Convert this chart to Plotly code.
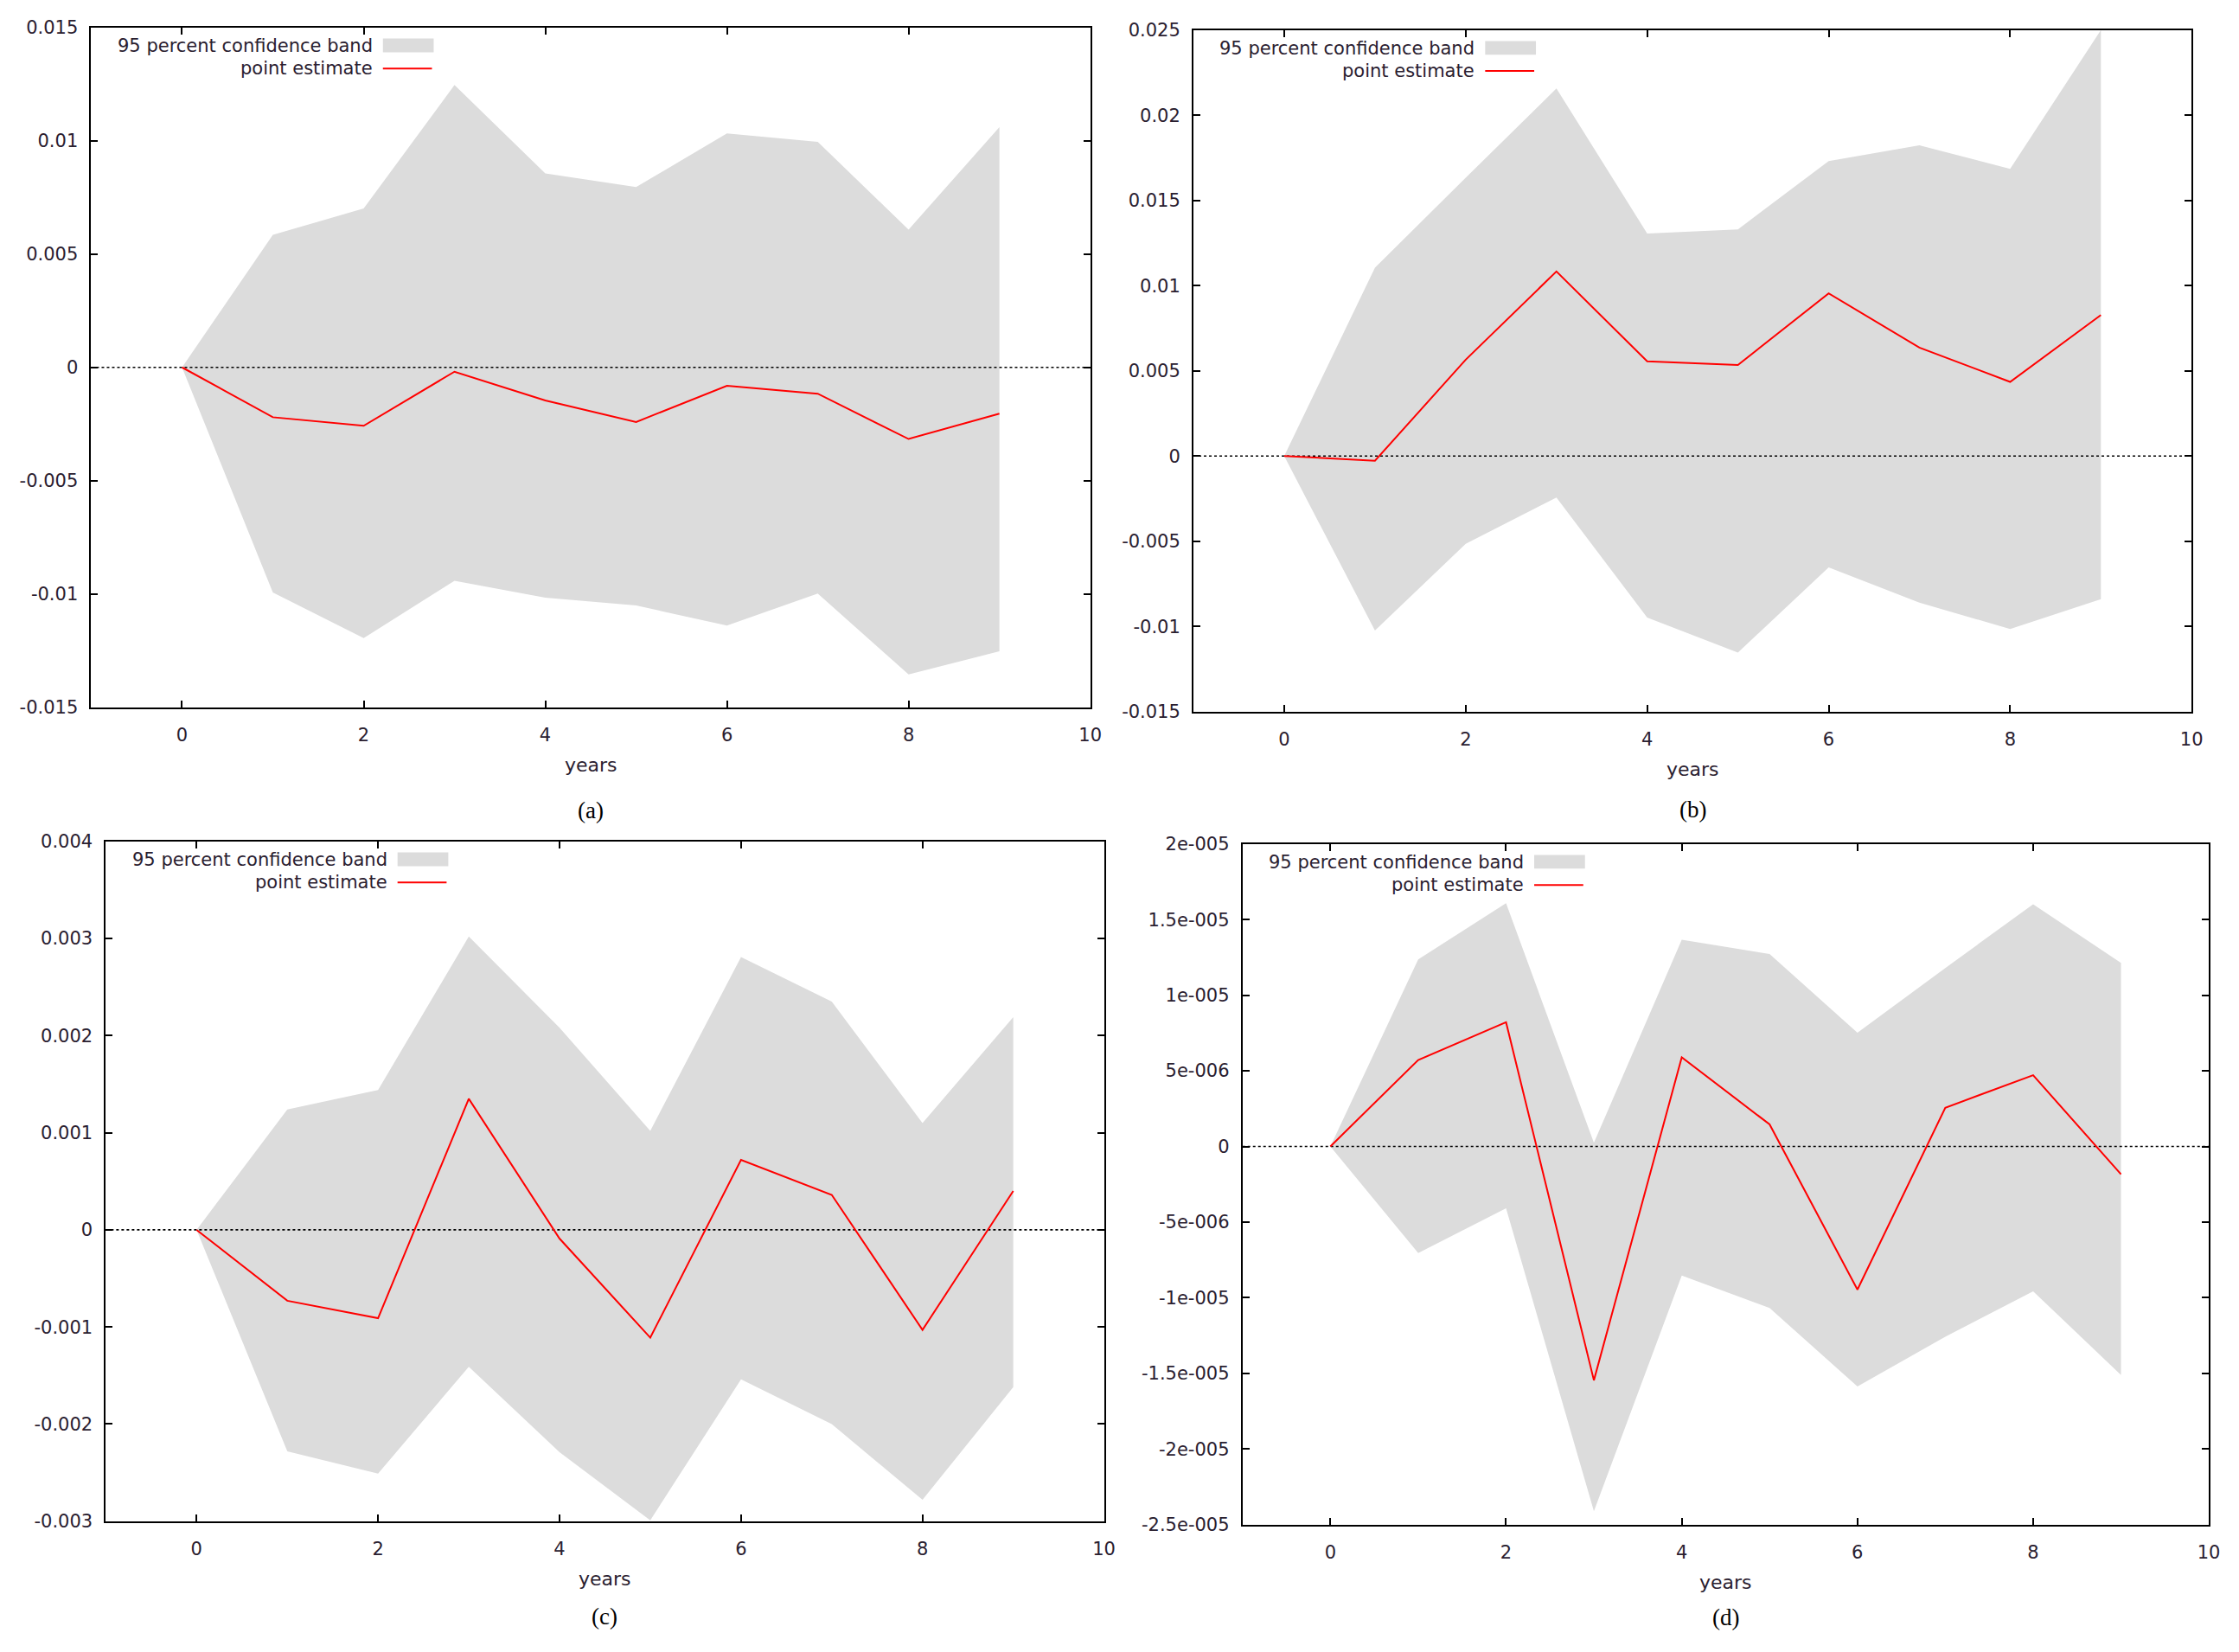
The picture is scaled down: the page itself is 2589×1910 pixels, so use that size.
import plotly.graph_objects as go

W, H = 2589, 1910

# ---------------- data ----------------
years = [0, 1, 2, 3, 4, 5, 6, 7, 8, 9]
x_ticks = [0, 2, 4, 6, 8, 10]
x_range = [-1, 10]

a_upper = [0, 0.00585, 0.00701, 0.01246, 0.00856, 0.00796, 0.01032, 0.00995, 0.00608, 0.01060]
a_lower = [0, -0.00993, -0.01195, -0.00942, -0.01016, -0.01051, -0.01139, -0.00998, -0.01355, -0.01253]
a_point = [0, -0.00220, -0.00258, -0.00019, -0.00146, -0.00241, -0.00081, -0.00116, -0.00316, -0.00204]
a_yticks = [-0.015, -0.01, -0.005, 0, 0.005, 0.01, 0.015]
a_yticktext = ["-0.015", "-0.01", "-0.005", "0", "0.005", "0.01", "0.015"]

b_upper = [0, 0.01105, 0.01633, 0.02157, 0.01306, 0.01330, 0.01731, 0.01824, 0.01685, 0.02500]
b_lower = [0, -0.01025, -0.00515, -0.00244, -0.00948, -0.01154, -0.00654, -0.00861, -0.01015, -0.00840]
b_point = [0, -0.00028, 0.00565, 0.01083, 0.00556, 0.00534, 0.00954, 0.00636, 0.00435, 0.00827]
b_yticks = [-0.015, -0.01, -0.005, 0, 0.005, 0.01, 0.015, 0.02, 0.025]
b_yticktext = ["-0.015", "-0.01", "-0.005", "0", "0.005", "0.01", "0.015", "0.02", "0.025"]

c_upper = [0, 0.00124, 0.00144, 0.00302, 0.00208, 0.00102, 0.00281, 0.00235, 0.00110, 0.00219]
c_lower = [0, -0.00228, -0.00251, -0.00141, -0.00229, -0.00299, -0.00154, -0.00200, -0.00278, -0.00162]
c_point = [0, -0.00073, -0.00091, 0.00135, -0.00009, -0.00111, 0.00072, 0.00036, -0.00103, 0.00040]
c_yticks = [-0.003, -0.002, -0.001, 0, 0.001, 0.002, 0.003, 0.004]
c_yticktext = ["-0.003", "-0.002", "-0.001", "0", "0.001", "0.002", "0.003", "0.004"]

d_upper = [0, 12.37e-6, 16.08e-6, 0.24e-6, 13.66e-6, 12.72e-6, 7.52e-6, 11.8e-6, 16.01e-6, 12.13e-6]
d_lower = [0, -7.04e-6, -4.09e-6, -24.12e-6, -8.53e-6, -10.68e-6, -15.87e-6, -12.58e-6, -9.57e-6, -15.11e-6]
d_point = [0, 5.72e-6, 8.21e-6, -15.46e-6, 5.89e-6, 1.46e-6, -9.46e-6, 2.56e-6, 4.71e-6, -1.84e-6]
d_yticks = [-2.5e-5, -2e-5, -1.5e-5, -1e-5, -5e-6, 0, 5e-6, 1e-5, 1.5e-5, 2e-5]
d_yticktext = ["-2.5e-005", "-2e-005", "-1.5e-005", "-1e-005", "-5e-006", "0",
               "5e-006", "1e-005", "1.5e-005", "2e-005"]

panel_labels = ["(a)", "(b)", "(c)", "(d)"]
band_name = "95 percent confidence band"
point_name = "point estimate"
x_title = "years"

# ---------------- layout (pixel boxes: left, right, top, bottom) ----------------
panels = [
    dict(upper=a_upper, lower=a_lower, point=a_point, yt=a_yticks, ytt=a_yticktext,
         yr=[-0.015, 0.015], box=(106, 1267, 20, 816), lab=121),
    dict(upper=b_upper, lower=b_lower, point=b_point, yt=b_yticks, ytt=b_yticktext,
         yr=[-0.015, 0.025], box=(1387, 2547, 23, 821), lab=115),
    dict(upper=c_upper, lower=c_lower, point=c_point, yt=c_yticks, ytt=c_yticktext,
         yr=[-0.003, 0.004], box=(123, 1283, 973, 1769), lab=112),
    dict(upper=d_upper, lower=d_lower, point=d_point, yt=d_yticks, ytt=d_yticktext,
         yr=[-2.5e-5, 2e-5], box=(1444, 2567, 976, 1773), lab=109),
]

FONT = "DejaVu Sans"
TXT = "#2a2030"
BAND = "#dcdcdc"

fig = go.Figure()
annotations = []
shapes = []

def px(xp):
    return xp / W

def py(yp):
    return 1 - yp / H

for i, p in enumerate(panels):
    n = "" if i == 0 else str(i + 1)
    xa, ya = "x" + n, "y" + n
    l, r, t, b = p["box"]

    fig.add_trace(go.Scatter(
        x=years + years[::-1], y=p["upper"] + p["lower"][::-1],
        fill="toself", fillcolor=BAND, line=dict(width=0), mode="lines",
        hoverinfo="skip", showlegend=False, xaxis=xa, yaxis=ya))
    fig.add_trace(go.Scatter(
        x=x_range, y=[0, 0], mode="lines",
        line=dict(color="black", width=1.6, dash="dot"),
        showlegend=False, xaxis=xa, yaxis=ya))
    fig.add_trace(go.Scatter(
        x=years, y=p["point"], mode="lines",
        line=dict(color="#ff0000", width=2),
        showlegend=False, xaxis=xa, yaxis=ya))

    axis_common = dict(
        showline=True, linecolor="black", linewidth=2, mirror="ticks",
        ticks="inside", ticklen=8, tickwidth=2, tickcolor="black",
        showgrid=False, zeroline=False,
        tickfont=dict(family=FONT, size=21, color=TXT),
    )
    fig.update_layout(**{
        "xaxis" + n: dict(axis_common, domain=[px(l), px(r)], range=x_range,
                          tickmode="array", tickvals=x_ticks,
                          ticktext=[str(v) for v in x_ticks],
                          anchor=ya, ticklabelstandoff=12),
        "yaxis" + n: dict(axis_common, domain=[py(b), py(t)], range=p["yr"],
                          tickmode="array", tickvals=p["yt"], ticktext=p["ytt"],
                          anchor=xa, ticklabelstandoff=9),
    })

    cx = (l + r) / 2
    annotations.append(dict(xref="paper", yref="paper", x=px(cx), y=py(b + 68),
                            text=x_title, showarrow=False, xanchor="center", yanchor="middle",
                            font=dict(family=FONT, size=22, color=TXT)))
    annotations.append(dict(xref="paper", yref="paper", x=px(cx), y=py(b + p["lab"]),
                            text=panel_labels[i], showarrow=False, xanchor="center",
                            yanchor="middle",
                            font=dict(family="Liberation Serif", size=27, color="black")))
    # legend (text right-aligned, key to the right)
    annotations.append(dict(xref="paper", yref="paper", x=px(l + 329), y=py(t + 22),
                            text=band_name, showarrow=False, xanchor="right", yanchor="middle",
                            font=dict(family=FONT, size=21, color=TXT)))
    annotations.append(dict(xref="paper", yref="paper", x=px(l + 329), y=py(t + 48),
                            text=point_name, showarrow=False, xanchor="right", yanchor="middle",
                            font=dict(family=FONT, size=21, color=TXT)))
    shapes.append(dict(type="rect", xref="paper", yref="paper",
                       x0=px(l + 339), x1=px(l + 398), y0=py(t + 13), y1=py(t + 29),
                       fillcolor=BAND, line=dict(width=0)))
    shapes.append(dict(type="line", xref="paper", yref="paper",
                       x0=px(l + 339), x1=px(l + 396), y0=py(t + 48), y1=py(t + 48),
                       line=dict(color="#ff0000", width=2)))

fig.update_layout(
    width=W, height=H,
    margin=dict(l=0, r=0, t=0, b=0),
    paper_bgcolor="white", plot_bgcolor="white",
    annotations=annotations, shapes=shapes,
    showlegend=False,
)

fig.write_html("out.html", config={"displayModeBar": False},
               post_script="document.body.style.margin='0';")
